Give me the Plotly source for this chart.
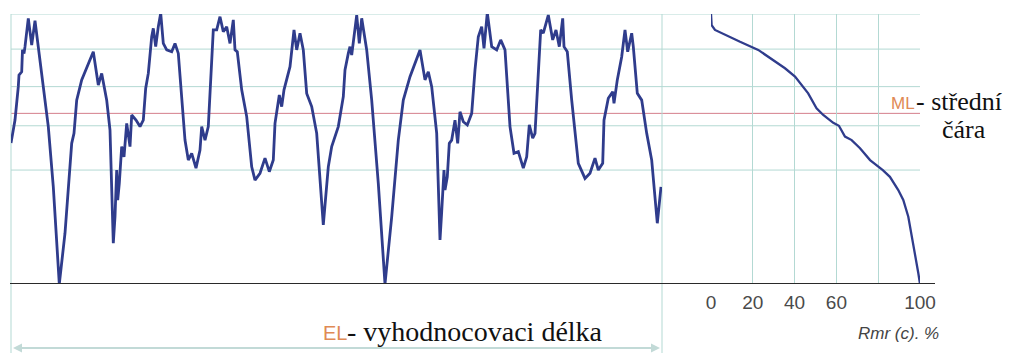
import plotly.graph_objects as go

W, H = 1014, 354

# Roughness profile along the evaluation length (x in µm, height in µm above the lowest valley)
profile_x = [0, 4, 7.3, 8, 10.7, 11.5, 13, 14, 17.3, 20.7,
             24, 27.3, 32.3, 37.3, 42.3, 48.3, 54, 60.7, 63, 65.7,
             70.7, 82.3, 87.3, 90.7, 95.7, 99, 102.3, 104, 105.7, 106.7,
             108.3, 110.7, 113, 115.7, 119, 120.7, 125, 129, 132.3, 134.7,
             137.3, 140.7, 142.3, 144.7, 147.3, 149.7, 152.3, 155.7, 160.7, 164,
             167.3, 170.7, 174, 177.3, 180.7, 185, 189, 190.7, 194, 197.3,
             199.7, 202.3, 205.7, 209, 212.3, 215.7, 219, 222.3, 224, 226.3,
             230.7, 235.7, 240.7, 244, 249, 254, 258.3, 262.3, 264, 268.3,
             270.7, 273, 279, 283, 285.7, 289, 292.3, 295.7, 300.7, 305.7,
             312.3, 317.3, 320.7, 327.3, 332.3, 334, 337.3, 339, 340.7, 345.7,
             348.3, 350.7, 355.7, 360.7, 367.3, 374, 380.7, 387.3, 392.3, 399,
             409, 414, 417.3, 420.7, 425.7, 429, 430.7, 433, 434, 436.3,
             438.3, 440.7, 444, 446.7, 449, 452.3, 456.3, 460.7, 464, 467.3,
             470.7, 473, 476.3, 480.7, 485.7, 489.7, 494, 499, 503, 507.3,
             512.3, 515.7, 518.3, 521.7, 524, 527.3, 529.7, 532.3, 537.3, 541.7,
             545, 548.3, 551.7, 553, 556.3, 560.7, 567.3, 574, 579, 584,
             587.3, 591.7, 593, 597.3, 601.7, 603, 606.3, 610.7, 614, 616.7,
             620.7, 622.3, 626.3, 630.7, 635.7, 640.7, 644, 646.3, 650]
profile_z = [5.22, 6.07, 7.31, 7.74, 7.86, 8.67, 8.54, 8.79, 9.84, 8.85,
             9.75, 8.79, 7.43, 5.83, 3.60, 0.0, 1.88, 5.21, 5.58, 6.81,
             7.56, 8.60, 7.37, 7.80, 6.81, 5.70, 1.51, 2.49, 4.22, 3.11,
             3.73, 5.09, 4.71, 5.95, 5.09, 6.26, 6.07, 5.83, 6.07, 7.25,
             7.80, 9.16, 9.47, 8.79, 9.53, 10.03, 8.91, 8.67, 8.60, 8.91,
             8.54, 6.81, 5.33, 4.59, 4.84, 4.29, 4.96, 5.83, 5.33, 5.83,
             7.80, 9.41, 9.41, 9.90, 9.34, 9.53, 8.91, 9.78, 8.67, 8.60,
             7.19, 6.20, 4.34, 3.85, 4.10, 4.66, 4.16, 4.59, 5.95, 7.00,
             6.57, 7.19, 8.05, 9.41, 8.67, 9.29, 8.67, 7.06, 6.57, 5.58,
             2.19, 4.34, 5.09, 5.83, 6.94, 7.93, 8.54, 8.79, 8.48, 9.96,
             8.91, 9.84, 8.67, 6.81, 3.73, 0.0, 2.49, 5.33, 6.81, 7.68,
             8.67, 7.56, 7.86, 7.31, 5.58, 1.63, 2.68, 4.22, 3.48, 3.97,
             5.21, 5.33, 6.07, 5.21, 6.38, 6.01, 5.89, 6.32, 7.93, 9.16,
             9.53, 8.73, 10.05, 8.79, 8.67, 9.04, 8.67, 5.83, 4.84, 4.90,
             4.29, 4.71, 5.89, 5.40, 5.58, 8.05, 9.41, 9.29, 9.96, 9.04,
             9.41, 8.79, 9.84, 8.79, 8.60, 6.81, 4.47, 3.91, 4.10, 4.66,
             4.22, 4.47, 6.07, 6.88, 7.12, 6.69, 7.56, 8.42, 9.41, 8.60,
             9.29, 8.79, 7.06, 6.81, 5.58, 4.59, 3.11, 2.25, 3.60]

# Material ratio (Abbott-Firestone) curve: Rmr(c) in % against section height c
rmr_pct = [0, 0.3, 1.9, 7.5, 13.9, 22.6, 28.2, 35.4, 40.2, 42.6, 46.5, 50.5, 53.7,
           58.5, 61.2, 64.1, 67.3, 71.3, 76.1, 82.2, 85.6, 89.6, 92.0, 94.4, 96.8,
           99.2, 100]
rmr_c = [10.0, 9.59, 9.41, 9.20, 8.97, 8.67, 8.36, 7.99, 7.68, 7.43, 7.06, 6.51, 6.26,
         5.97, 5.86, 5.46, 5.33, 5.03, 4.59, 4.22, 3.97, 3.48, 3.11, 2.49, 1.51,
         0.40, 0.0]

# Section heights of the horizontal grid and of the mean line
grid_levels = [10.0, 8.70, 7.31, 5.86, 4.22]
mean_line = 6.32

rmr_ticks = [0, 20, 40, 60, 80, 100]
rmr_tick_text = ["0", "20", "40", "60", "", "100"]

GRID = "#b3d9d3"
LINE = "#2f3c8c"
ARROW = "#c2dad7"
ORANGE = "#e08a55"
SERIF = "Liberation Serif, Times New Roman, serif"
SANS = "Liberation Sans, Arial, sans-serif"


def px(x):
    return x / W


def py(y):
    return 1 - y / H


fig = go.Figure()
fig.add_trace(go.Scatter(x=profile_x, y=profile_z, mode="lines",
                         line=dict(color=LINE, width=2.8), xaxis="x", yaxis="y",
                         hoverinfo="skip"))
fig.add_trace(go.Scatter(x=rmr_pct, y=rmr_c, mode="lines",
                         line=dict(color=LINE, width=2.3), xaxis="x2", yaxis="y",
                         hoverinfo="skip"))

shapes = []
for g in grid_levels:
    shapes.append(dict(type="line", xref="paper", yref="y", x0=px(11), x1=px(920),
                       y0=g, y1=g, line=dict(color=GRID, width=1), layer="below"))
shapes.append(dict(type="line", xref="paper", yref="y", x0=px(11), x1=px(920),
                   y0=mean_line, y1=mean_line, line=dict(color="#d47f8c", width=1),
                   layer="below"))
# borders of the evaluation length
for xv in (11, 662):
    shapes.append(dict(type="line", xref="paper", yref="paper", x0=px(xv), x1=px(xv),
                       y0=py(353), y1=py(14), line=dict(color=GRID, width=1),
                       layer="below"))
# baseline through the deepest valley
shapes.append(dict(type="line", xref="paper", yref="y", x0=px(10), x1=px(935),
                   y0=0, y1=0, line=dict(color="#2a2a2a", width=2)))

# double-headed arrow marking the evaluation length
ay = 348
shapes.append(dict(type="line", xref="paper", yref="paper", x0=px(20), x1=px(654),
                   y0=py(ay), y1=py(ay), line=dict(color=ARROW, width=2)))
shapes.append(dict(type="path", xref="paper", yref="paper",
                   path=f"M {px(13)},{py(ay)} L {px(22)},{py(ay - 4.5)} L {px(22)},{py(ay + 4.5)} Z",
                   fillcolor=ARROW, line=dict(width=0)))
shapes.append(dict(type="path", xref="paper", yref="paper",
                   path=f"M {px(660)},{py(ay)} L {px(651)},{py(ay - 4.5)} L {px(651)},{py(ay + 4.5)} Z",
                   fillcolor=ARROW, line=dict(width=0)))

annotations = [
    dict(xref="paper", yref="paper", x=px(321), y=py(333), xanchor="left",
         yanchor="middle", text="EL", showarrow=False,
         font=dict(family=SANS, size=20, color=ORANGE)),
    dict(xref="paper", yref="paper", x=px(345), y=py(331), xanchor="left",
         yanchor="middle", text="- vyhodnocovaci délka", showarrow=False,
         font=dict(family=SERIF, size=28, color="#111")),
    dict(xref="paper", yref="paper", x=px(889), y=py(104), xanchor="left",
         yanchor="middle", text="ML", showarrow=False,
         font=dict(family=SANS, size=17, color=ORANGE)),
    dict(xref="paper", yref="paper", x=px(914), y=py(101), xanchor="left",
         yanchor="middle", text="- střední", showarrow=False,
         font=dict(family=SERIF, size=26, color="#111")),
    dict(xref="paper", yref="paper", x=px(940), y=py(129.5), xanchor="left",
         yanchor="middle", text="čára", showarrow=False,
         font=dict(family=SERIF, size=26, color="#111")),
    dict(xref="paper", yref="paper", x=px(941), y=py(333), xanchor="right",
         yanchor="middle", text="<i>Rmr (c). %</i>", showarrow=False,
         font=dict(family=SANS, size=17, color="#444")),
]

fig.update_layout(
    width=W, height=H, autosize=False, margin=dict(l=0, r=0, t=0, b=0, pad=0),
    paper_bgcolor="white", plot_bgcolor="rgba(0,0,0,0)", showlegend=False,
    xaxis=dict(domain=[px(11), px(662)], range=[0, 651], visible=False,
               anchor="y", automargin=False),
    xaxis2=dict(domain=[px(711), px(920)], range=[0, 100], anchor="y",
                tickvals=rmr_ticks, ticktext=rmr_tick_text, ticks="",
                showgrid=True, gridcolor=GRID, gridwidth=1, zeroline=False,
                showline=False, ticklabelstandoff=5, automargin=False,
                tickfont=dict(family=SANS, size=19, color="#4a4a4a")),
    yaxis=dict(domain=[py(284), py(14)], range=[0, 10], visible=False,
               automargin=False),
    shapes=shapes, annotations=annotations,
)

fig.write_html("out.html", config={"responsive": False, "displayModeBar": False})
